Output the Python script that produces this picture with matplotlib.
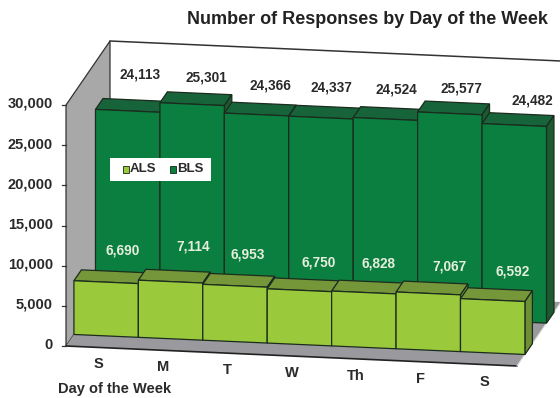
import matplotlib
matplotlib.use('Agg')
import matplotlib.pyplot as plt
from matplotlib.patches import Polygon, Rectangle

days = ['S', 'M', 'T', 'W', 'Th', 'F', 'S']
als = [6690, 7114, 6953, 6750, 6828, 7067, 6592]
bls = [24113, 25301, 24366, 24337, 24524, 25577, 24482]
y_ticks = [0, 5000, 10000, 15000, 20000, 25000, 30000]

# label nudges in pixels, the original labels sit quite unevenly
als_nudge = [(16, -32), (23, -35), (13, -31), (19, -28), (15, -29), (21, -27), (20, -29)]
bls_nudge = [(12, -36), (14, -27), (14, -29), (10, -30), (11, -29), (12, -25), (18, -25)]

plt.rcParams['font.family'] = ['Liberation Sans', 'DejaVu Sans']

# oblique projection of the 3d chart box onto pixels
X0, Y0 = 66, 346
DX_U, DY_U = 451, 20
DX_D, DY_D = 44, -64
Y_SCALE = 241 / 30000


def project(u, value, depth):
    x = X0 + DX_U * u + DX_D * depth
    y = Y0 + DY_U * u + DY_D * depth - value * Y_SCALE
    return x, y


def face(ax, pts, color, z, edge='#1b2b1e', lw=0.9):
    ax.add_patch(Polygon(pts, closed=True, facecolor=color, edgecolor=edge, linewidth=lw, zorder=z))


def box(ax, i, value, d0, d1, front, top, side, z):
    n = len(days)
    u0, u1 = i / n, (i + 1) / n
    face(ax, [project(u0, value, d0), project(u1, value, d0),
              project(u1, value, d1), project(u0, value, d1)], top, z)
    face(ax, [project(u1, 0, d0), project(u1, value, d0),
              project(u1, value, d1), project(u1, 0, d1)], side, z)
    face(ax, [project(u0, 0, d0), project(u1, 0, d0),
              project(u1, value, d0), project(u0, value, d0)], front, z)


fig = plt.figure(figsize=(5.6, 3.98), dpi=100)
ax = fig.add_axes([0, 0, 1, 1])
ax.set_xlim(0, 560)
ax.set_ylim(398, 0)
ax.axis('off')

y_max = y_ticks[-1]

# walls and floor
face(ax, [project(0, 0, 1), project(1, 0, 1), project(1, y_max, 1), project(0, y_max, 1)],
     'white', 1, edge='none')
ax.plot(*zip(project(0, y_max, 1), project(1, y_max, 1)), color='#333333', lw=1.1, zorder=2)
face(ax, [project(0, 0, 0), project(0, 0, 1), project(0, y_max, 1), project(0, y_max, 0)],
     '#a8a8a8', 2, edge='#333333', lw=0.9)
face(ax, [project(0, 0, 0), project(1, 0, 0), project(1, 0, 1), project(0, 0, 1)],
     '#9a9a9e', 2, edge='none')
ax.plot(*zip(project(0, 0, 0), project(1, 0, 0)), color='#222222', lw=1.2, zorder=3)
ax.plot(*zip(project(1, 0, 0), project(1, 0, 1)), color='#dddddd', lw=0.8, zorder=3)

# bars, left to right so the nearer neighbour covers the side face
for i in range(len(days)):
    box(ax, i, bls[i], 0.67, 0.84, '#0b7f40', '#17633a', '#1c5a30', 4 + i * 0.01)
for i in range(len(days)):
    box(ax, i, als[i], 0.18, 0.35, '#9aca3c', '#76963a', '#6f8f36', 5 + i * 0.01)

# value labels
for i in range(len(days)):
    u = (i + 0.5) / len(days)
    x, y = project(u, bls[i], 0.67)
    ax.text(x + bls_nudge[i][0], y + bls_nudge[i][1], f'{bls[i]:,}', ha='center', va='center',
            fontsize=9.8, fontweight='bold', color='#2a2a2a', zorder=8)
    x, y = project(u, als[i], 0.18)
    ax.text(x + als_nudge[i][0], y + als_nudge[i][1], f'{als[i]:,}', ha='center', va='center',
            fontsize=9.8, fontweight='bold', color='#e6efdc', zorder=8)

# y axis
for t in y_ticks:
    x, y = project(0, t, 0)
    ax.plot([x - 4, x], [y, y], color='#333333', lw=0.9, zorder=3)
    ax.text(x - 13, y - 1, f'{t:,}', ha='right', va='center', fontsize=10.5,
            fontweight='bold', color='#2a2a2a')

# x axis
for i, d in enumerate(days):
    x, y = project((i + 0.5) / len(days), 0, 0)
    ax.text(x, y + 17, d, ha='center', va='center', fontsize=10.5, fontweight='bold', color='#2a2a2a')

ax.text(115, 389, 'Day of the Week', ha='center', va='center', fontsize=10.5,
        fontweight='bold', color='#2a2a2a')
ax.text(367, 20, 'Number of Responses by Day of the Week', ha='center', va='center',
        fontsize=13, fontweight='bold', color='#222222')

# legend
ax.add_patch(Rectangle((110, 158), 101, 23, facecolor='white', edgecolor='none', zorder=9))
ax.add_patch(Rectangle((123, 166), 6, 6.5, facecolor='#9aca3c', edgecolor='#16261a', lw=0.6, zorder=10))
ax.text(130, 169, 'ALS', ha='left', va='center', fontsize=9.5, fontweight='bold', color='#2a2a2a', zorder=10)
ax.add_patch(Rectangle((170, 166), 6, 6.5, facecolor='#0b7f40', edgecolor='#16261a', lw=0.6, zorder=10))
ax.text(177, 169, 'BLS', ha='left', va='center', fontsize=9.5, fontweight='bold', color='#2a2a2a', zorder=10)

fig.savefig('out.png', dpi=100)
